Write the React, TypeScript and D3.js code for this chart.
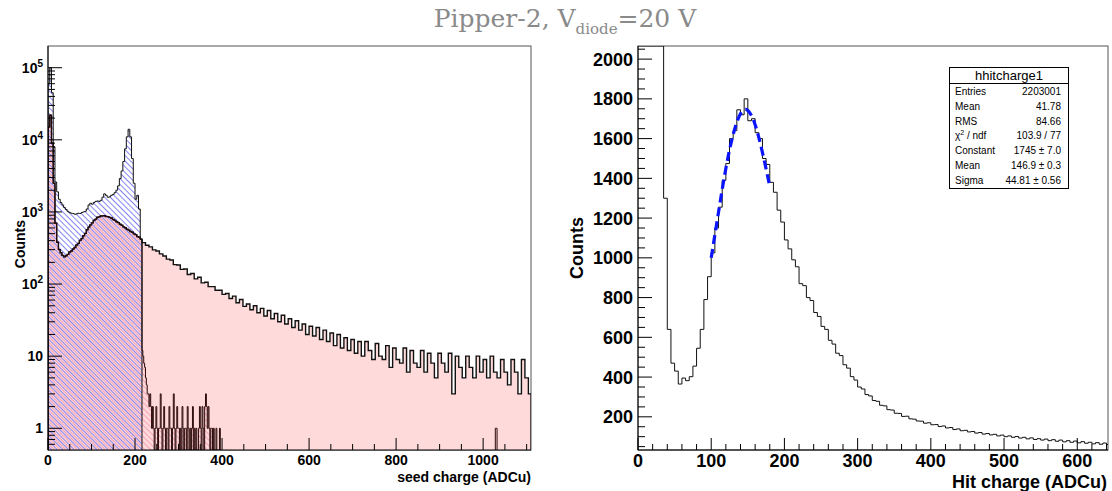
import * as d3 from "d3";

// ---------- left panel: seed charge, log y ----------
const seedBinWidth = 4; // bins start at 0
// blue hatched histogram (all seeds), 0..216 ADCu
const seedAllCounts = [
  60000, 100000, 45000, 8000, 2600, 1900, 1500, 1350, 1250, 1150, 1080, 1020, 980, 960,
  950, 930, 940, 960, 950, 980, 1000, 1020, 1100, 1250, 1320, 1280, 1350, 1400, 1420, 1400,
  1450, 1600, 1780, 1700, 1600, 1620, 1700, 1750, 1850, 2000, 2300, 2900, 3700, 5000, 7500,
  11000, 14000, 11000, 5500, 2500, 1500, 1700, 1100, 420,
];
// pink histogram below the blue one, 0..216 ADCu
const seedPinkCounts = [
  15000, 22000, 9000, 2500, 700, 380, 300, 272, 250, 238, 247, 258, 278, 288, 306, 322, 348,
  366, 404, 428, 468, 505, 565, 615, 662, 705, 765, 795, 845, 855, 880, 882, 885, 865, 862,
  840, 825, 785, 765, 730, 712, 676, 655, 620, 604, 575, 560, 535, 522, 496, 484, 455, 445, 420,
];
// low count bins after the cut (2 ADCu bins from 216)
const lowStart = 216;
const lowBinWidth = 2;
const lowCounts = [
  12, 10, 8, 7, 5, 4, 3, 3, 2, 3, 2, 1, 2, 1, 0, 1, 2, 1, 0, 1, 1, 3, 1, 0, 1, 2, 1, 0, 1, 1,
  0, 2, 1, 1, 0, 1, 3, 1, 0, 1, 2, 1, 1, 0, 1, 0, 2, 1, 0, 1, 1, 0, 2, 1, 0, 1, 0, 1, 2, 0,
  1, 0, 1, 0, 0, 1, 2, 1, 0, 2, 1, 0, 2, 3, 2, 1, 2, 1, 0, 1, 1, 0, 1, 0, 0, 1, 0, 0, 0, 1,
];
const lateStart = 1028;
const lateCounts = [1, 1];
// dotted pink tail (8 ADCu bins from 216)
const tailStart = 216;
const tailBinWidth = 8;
const tailCounts = [
  375, 345, 328, 298, 288, 262, 245, 222, 216, 186, 184, 160, 162, 136, 140, 118, 124, 104,
  106, 92, 92, 82, 82, 72, 74, 63, 68, 55, 61, 49, 53, 44, 50, 40, 46, 36, 43, 33, 39, 30,
  37, 28, 33, 25, 31, 23, 28, 20, 26, 19, 25, 17, 23, 16, 21, 14, 20, 13, 18, 12, 17, 11,
  16, 10, 16, 12, 9, 15, 10, 9, 14, 7, 13, 9, 8, 13, 6, 12, 8, 7, 12, 6, 11, 8, 5, 11,
  8, 6, 11, 3, 10, 7, 5, 10, 7, 5, 10, 6, 9, 5, 10, 6, 5, 9, 6, 4, 9, 6, 3, 9, 5, 3,
];
const seedXTicks = [0, 200, 400, 600, 800, 1000];
const seedYTicks = [1, 10, 100, 1000, 10000, 100000];
const seedYBase = ["1", "10", "10", "10", "10", "10"];
const seedYExp = ["", "", "2", "3", "4", "5"];

// ---------- right panel: hit charge ----------
const hitBinWidth = 5; // bins start at 0
const hitCounts = [
  90000, 80000, 60000, 40000, 25000, 12000, 4000, 1300, 640, 470, 430, 365, 395, 382, 402,
  455, 545, 640, 790, 905, 1025, 1150, 1255, 1390, 1475, 1600, 1640, 1745, 1720, 1800, 1690,
  1700, 1630, 1600, 1500, 1470, 1380, 1330, 1240, 1180, 1090, 1045, 990, 955, 870, 860, 800,
  785, 725, 705, 655, 640, 585, 566, 520, 508, 462, 445, 402, 385, 350, 340, 312, 305, 282,
  278, 258, 255, 236, 234, 218, 217, 202, 203, 190, 188, 179, 178, 168, 170, 160, 161, 151,
  154, 144, 146, 136, 139, 130, 132, 124, 126, 118, 121, 113, 116, 109, 112, 104, 108, 100,
  104, 97, 101, 93, 97, 89, 94, 86, 90, 83, 88, 80, 85, 77, 83, 74, 80, 72, 78, 69, 75, 67,
  72, 64, 70, 62, 68, 60,
];
const fitX = [100, 110, 120, 130, 140, 150, 160, 170, 180];
const fitY = [1000, 1230, 1450, 1620, 1725, 1742, 1670, 1530, 1360];
const hitXTicks = [0, 100, 200, 300, 400, 500, 600];
const hitYTicks = [200, 400, 600, 800, 1000, 1200, 1400, 1600, 1800, 2000];
const statsLabels = ["Entries", "Mean", "RMS", "chi", "Constant", "Mean", "Sigma"];
const statsValues = ["2203001", "41.78", "84.66", "103.9 / 77", "1745 \u00b1 7.0", "146.9 \u00b1 0.3", "44.81 \u00b1 0.56"];

type Pt = [number, number];
function steps(start: number, width: number, counts: number[]): Pt[] {
  const pts: Pt[] = [];
  counts.forEach((c, i) => {
    const x0 = start + i * width;
    pts.push([x0, c], [x0 + width, c]);
  });
  return pts;
}
function closed(pts: Pt[]): Pt[] {
  return [[pts[0][0], 0], ...pts, [pts[pts.length - 1][0], 0]];
}

const FONT = "'Liberation Sans', Arial, Helvetica, sans-serif";

const L = { x0: 48, x1: 531, y0: 46, y1: 450 };
const R = { x0: 638, x1: 1108, y0: 46, y1: 450 };

export default function App() {
  const lx = d3.scaleLinear().domain([0, 1110]).range([L.x0, L.x1]).clamp(true);
  const ly = d3.scaleLog().domain([0.5, 2e5]).range([L.y1, L.y0]).clamp(true);
  const lyv = (c: number) => ly(Math.max(c, 0.5));
  const lLine = d3.line<Pt>().x((d) => lx(d[0])).y((d) => lyv(d[1]));
  const lArea = d3.area<Pt>().x((d) => lx(d[0])).y0(L.y1).y1((d) => lyv(d[1]));

  const pinkPts = steps(0, seedBinWidth, seedPinkCounts);
  const fullPts = [...pinkPts, ...steps(tailStart, tailBinWidth, tailCounts)];
  const hatchPts = [...pinkPts, ...steps(lowStart, lowBinWidth, lowCounts)];
  const bluePts = steps(0, seedBinWidth, seedAllCounts);
  const latePts = steps(lateStart, lowBinWidth, lateCounts);

  const rx = d3.scaleLinear().domain([0, 642]).range([R.x0, R.x1]);
  const ry = d3.scaleLinear().domain([33, 2066]).range([R.y1, R.y0]).clamp(true);
  const rLine = d3.line<Pt>().x((d) => rx(d[0])).y((d) => ry(d[1]));
  const fitLine = d3
    .line<number>()
    .x((_, i) => rx(fitX[i]))
    .y((d) => ry(d))
    .curve(d3.curveNatural);
  const hitPts = steps(0, hitBinWidth, hitCounts);

  // minor ticks
  const lyMinor: number[] = [];
  [0.1, 1, 10, 100, 1000, 10000, 100000].forEach((dec) =>
    d3.range(2, 10).forEach((m) => {
      const v = m * dec;
      if (v > 0.5 && v < 2e5) lyMinor.push(v);
    })
  );
  const lxMinor = d3.range(0, 1111, 50);
  const rxMinor = d3.range(0, 643, 20);
  const ryMinor = d3.range(50, 2066, 50);

  return (
    <svg
      width={1112}
      height={491}
      style={{ position: "absolute", left: 0, top: 0, background: "#fff" }}
      fontFamily={FONT}
    >
      <defs>
        <clipPath id="clipL">
          <rect x={L.x0} y={L.y0} width={L.x1 - L.x0} height={L.y1 - L.y0} />
        </clipPath>
        <clipPath id="clipR">
          <rect x={R.x0} y={R.y0} width={R.x1 - R.x0} height={R.y1 - R.y0} />
        </clipPath>
        <pattern id="pinkHatch" width={4} height={4} patternUnits="userSpaceOnUse" patternTransform="rotate(-45)">
          <line x1={0.5} y1={0} x2={0.5} y2={4} stroke="#f2a3b6" strokeWidth={1.1} />
        </pattern>
        <pattern id="blueHatch" width={4} height={4} patternUnits="userSpaceOnUse" patternTransform="rotate(-45)">
          <line x1={2.5} y1={0} x2={2.5} y2={4} stroke="#8585f2" strokeWidth={1} />
        </pattern>
      </defs>

      {/* title */}
      <text x={565} y={27} textAnchor="middle" fontFamily="'DejaVu Serif', serif" fontSize={25} fill="#8a8a8a">
        Pipper-2, V
        <tspan fontSize={15} dy={7}>diode</tspan>
        <tspan dy={-7}>=20 V</tspan>
      </text>

      {/* ===== left panel ===== */}
      <rect x={L.x0} y={L.y0} width={L.x1 - L.x0} height={L.y1 - L.y0} fill="#fff" stroke="#555" />
      <g clipPath="url(#clipL)">
        <path d={lArea(fullPts) || ""} fill="#ffdada" />
        <path d={lArea(hatchPts) || ""} fill="url(#pinkHatch)" />
        <path d={lArea(bluePts) || ""} fill="url(#blueHatch)" />
        <path d={lLine(closed(fullPts)) || ""} fill="none" stroke="#111" strokeWidth={1.4} />
        <path d={lLine(closed(hatchPts)) || ""} fill="none" stroke="#2a0a0a" strokeWidth={1} />
        <path d={lLine(closed(latePts)) || ""} fill="none" stroke="#2a0a0a" strokeWidth={1} />
        <path d={lLine(closed(bluePts)) || ""} fill="none" stroke="#111" strokeWidth={1} />
      </g>
      <line x1={L.x0} y1={L.y1} x2={L.x1} y2={L.y1} stroke="#000" />
      <line x1={L.x0} y1={L.y0} x2={L.x0} y2={L.y1} stroke="#000" />
      {lxMinor.map((v) => (
        <line key={"lxm" + v} x1={lx(v)} x2={lx(v)} y1={L.y1} y2={L.y1 - (v % 200 === 0 ? 12 : 6)} stroke="#000" />
      ))}
      {seedXTicks.map((v) => (
        <text key={"lxt" + v} x={lx(v)} y={465} textAnchor="middle" fontSize={14} fontWeight="bold">
          {v}
        </text>
      ))}
      {lyMinor.map((v) => (
        <line key={"lym" + v} x1={L.x0} x2={L.x0 + 7} y1={ly(v)} y2={ly(v)} stroke="#000" />
      ))}
      {seedYTicks.map((v, i) => (
        <g key={"lyt" + v}>
          <line x1={L.x0} x2={L.x0 + 14} y1={ly(v)} y2={ly(v)} stroke="#000" />
          <text x={43} y={ly(v) + 5} textAnchor="end" fontSize={14} fontWeight="bold">
            {seedYBase[i]}
            {seedYExp[i] && (
              <tspan fontSize={10} dy={-6}>
                {seedYExp[i]}
              </tspan>
            )}
          </text>
        </g>
      ))}
      <text x={L.x1} y={482} textAnchor="end" fontSize={14} fontWeight="bold">
        seed charge (ADCu)
      </text>
      <text transform={`translate(25,220) rotate(-90)`} textAnchor="end" fontSize={14} fontWeight="bold">
        Counts
      </text>

      {/* ===== right panel ===== */}
      <rect x={R.x0} y={R.y0} width={R.x1 - R.x0} height={R.y1 - R.y0} fill="#fff" stroke="#555" />
      <g clipPath="url(#clipR)">
        <path d={rLine(hitPts) || ""} fill="none" stroke="#111" strokeWidth={1} />
        <path d={fitLine(fitY) || ""} fill="none" stroke="#0a14ff" strokeWidth={3.2} strokeDasharray="9 5" />
      </g>
      <line x1={R.x0} y1={R.y1} x2={R.x1} y2={R.y1} stroke="#000" />
      <line x1={R.x0} y1={R.y0} x2={R.x0} y2={R.y1} stroke="#000" />
      {rxMinor.map((v) => (
        <line key={"rxm" + v} x1={rx(v)} x2={rx(v)} y1={R.y1} y2={R.y1 - (v % 100 === 0 ? 12 : 6)} stroke="#000" />
      ))}
      {hitXTicks.map((v) => (
        <text key={"rxt" + v} x={rx(v)} y={467} textAnchor="middle" fontSize={18} fontWeight="bold">
          {v}
        </text>
      ))}
      {ryMinor.map((v) => (
        <line key={"rym" + v} x1={R.x0} x2={R.x0 + (v % 200 === 0 ? 14 : 7)} y1={ry(v)} y2={ry(v)} stroke="#000" />
      ))}
      {hitYTicks.map((v) => (
        <text key={"ryt" + v} x={633} y={ry(v) + 6.5} textAnchor="end" fontSize={18} fontWeight="bold">
          {v}
        </text>
      ))}
      <text x={1107} y={488} textAnchor="end" fontSize={18} fontWeight="bold">
        Hit charge (ADCu)
      </text>
      <text transform={`translate(583,217) rotate(-90)`} textAnchor="end" fontSize={18} fontWeight="bold">
        Counts
      </text>

      {/* stats box */}
      <g>
        <rect x={949.5} y={67.5} width={119} height={121} fill="#fff" stroke="#000" />
        <line x1={949.5} x2={1068.5} y1={83.5} y2={83.5} stroke="#000" />
        <text x={1009} y={80} textAnchor="middle" fontSize={13}>
          hhitcharge1
        </text>
        {statsLabels.map((lab, i) => {
          const y = 95 + i * 14.8;
          return (
            <g key={"st" + i} fontSize={10}>
              <text x={955} y={y}>
                {lab === "chi" ? (
                  <>
                    {"\u03c7"}
                    <tspan fontSize={7} dy={-4}>2</tspan>
                    <tspan dy={4}> / ndf</tspan>
                  </>
                ) : (
                  lab
                )}
              </text>
              <text x={1061} y={y} textAnchor="end">
                {statsValues[i]}
              </text>
            </g>
          );
        })}
      </g>
    </svg>
  );
}
